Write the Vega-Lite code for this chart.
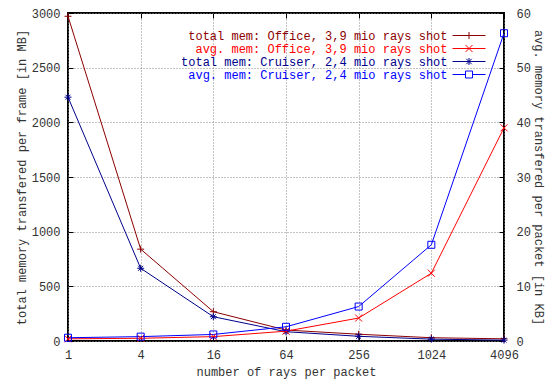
{
  "$schema": "https://vega.github.io/schema/vega-lite/v6.json",
  "width": 436,
  "height": 328,
  "autosize": {"type": "none"},
  "padding": {"left": 68, "top": 13, "right": 41, "bottom": 42},
  "data": {
    "values": [
      {"rays": 1, "series": "total mem: Office, 3,9 mio rays shot", "kind": "total", "value": 2970},
      {"rays": 4, "series": "total mem: Office, 3,9 mio rays shot", "kind": "total", "value": 840},
      {"rays": 16, "series": "total mem: Office, 3,9 mio rays shot", "kind": "total", "value": 268},
      {"rays": 64, "series": "total mem: Office, 3,9 mio rays shot", "kind": "total", "value": 100},
      {"rays": 256, "series": "total mem: Office, 3,9 mio rays shot", "kind": "total", "value": 62},
      {"rays": 1024, "series": "total mem: Office, 3,9 mio rays shot", "kind": "total", "value": 30},
      {"rays": 4096, "series": "total mem: Office, 3,9 mio rays shot", "kind": "total", "value": 20},
      {"rays": 1, "series": "avg. mem: Office, 3,9 mio rays shot", "kind": "avg", "value": 0.4},
      {"rays": 4, "series": "avg. mem: Office, 3,9 mio rays shot", "kind": "avg", "value": 0.5},
      {"rays": 16, "series": "avg. mem: Office, 3,9 mio rays shot", "kind": "avg", "value": 0.8},
      {"rays": 64, "series": "avg. mem: Office, 3,9 mio rays shot", "kind": "avg", "value": 1.8},
      {"rays": 256, "series": "avg. mem: Office, 3,9 mio rays shot", "kind": "avg", "value": 4.2},
      {"rays": 1024, "series": "avg. mem: Office, 3,9 mio rays shot", "kind": "avg", "value": 12.4},
      {"rays": 4096, "series": "avg. mem: Office, 3,9 mio rays shot", "kind": "avg", "value": 39},
      {"rays": 1, "series": "total mem: Cruiser, 2,4 mio rays shot", "kind": "total", "value": 2230},
      {"rays": 4, "series": "total mem: Cruiser, 2,4 mio rays shot", "kind": "total", "value": 665},
      {"rays": 16, "series": "total mem: Cruiser, 2,4 mio rays shot", "kind": "total", "value": 222},
      {"rays": 64, "series": "total mem: Cruiser, 2,4 mio rays shot", "kind": "total", "value": 85},
      {"rays": 256, "series": "total mem: Cruiser, 2,4 mio rays shot", "kind": "total", "value": 43},
      {"rays": 1024, "series": "total mem: Cruiser, 2,4 mio rays shot", "kind": "total", "value": 17},
      {"rays": 4096, "series": "total mem: Cruiser, 2,4 mio rays shot", "kind": "total", "value": 8},
      {"rays": 1, "series": "avg. mem: Cruiser, 2,4 mio rays shot", "kind": "avg", "value": 0.6},
      {"rays": 4, "series": "avg. mem: Cruiser, 2,4 mio rays shot", "kind": "avg", "value": 0.8},
      {"rays": 16, "series": "avg. mem: Cruiser, 2,4 mio rays shot", "kind": "avg", "value": 1.2},
      {"rays": 64, "series": "avg. mem: Cruiser, 2,4 mio rays shot", "kind": "avg", "value": 2.6},
      {"rays": 256, "series": "avg. mem: Cruiser, 2,4 mio rays shot", "kind": "avg", "value": 6.3},
      {"rays": 1024, "series": "avg. mem: Cruiser, 2,4 mio rays shot", "kind": "avg", "value": 17.6},
      {"rays": 4096, "series": "avg. mem: Cruiser, 2,4 mio rays shot", "kind": "avg", "value": 56.3}
    ]
  },
  "encoding": {
    "color": {
      "field": "series",
      "type": "nominal",
      "scale": {
        "domain": ["total mem: Office, 3,9 mio rays shot", "avg. mem: Office, 3,9 mio rays shot", "total mem: Cruiser, 2,4 mio rays shot", "avg. mem: Cruiser, 2,4 mio rays shot"],
        "range": ["#8b0000", "#ff0000", "#00008b", "#0000ff"]
      },
      "legend": {
        "title": null,
        "orient": "top-right",
        "offset": 16,
        "padding": 0,
        "rowPadding": 0,
        "labelAlign": "right",
        "labelOffset": -28,
        "labelLimit": 400,
        "labelFont": "Liberation Mono",
        "labelFontSize": 12,
        "labelColor": {"expr": "scale('color', datum.value)"},
        "symbolSize": 144,
        "symbolOffset": 10.5,
        "symbolStrokeWidth": 1,
        "symbolFillColor": "transparent",
        "symbolType": {"expr": "datum.value === 'total mem: Office, 3,9 mio rays shot' ? 'M-2.75,0H2.75M0,-0.58V0.58' : datum.value === 'avg. mem: Office, 3,9 mio rays shot' ? 'M-2.75,0H2.75M-0.58,-0.58L0.58,0.58M-0.58,0.58L0.58,-0.58' : datum.value === 'total mem: Cruiser, 2,4 mio rays shot' ? 'M-2.75,0H2.75M0,-0.58V0.58M-0.45,-0.45L0.45,0.45M-0.45,0.45L0.45,-0.45' : 'M-2.75,0H-0.58M0.58,0H2.75M-0.58,-0.58H0.58V0.58H-0.58Z'"}
      }
    }
  },
  "layer": [
    {
      "transform": [{"filter": "datum.kind === 'total'"}],
      "encoding": {
        "x": {
          "field": "rays", "type": "quantitative",
          "scale": {"type": "log", "base": 4, "domain": [1, 4096], "nice": false},
          "axis": {"orient": "bottom", "values": [1, 4, 16, 64, 256, 1024, 4096], "format": "d", "title": "number of rays per packet", "labelPadding": 13, "titlePadding": 6, "grid": true, "labelFlush": false}
        },
        "y": {
          "field": "value", "type": "quantitative",
          "scale": {"domain": [0, 3000], "nice": false},
          "axis": {"orient": "left", "values": [0, 500, 1000, 1500, 2000, 2500, 3000], "format": "d", "title": "total memory transfered per frame [in MB]", "labelPadding": 13, "titlePadding": 3, "grid": true}
        }
      },
      "layer": [
        {"mark": {"type": "line", "strokeWidth": 1}},
        {
          "transform": [{"filter": "datum.series === 'total mem: Office, 3,9 mio rays shot'"}],
          "mark": {"type": "point", "filled": false, "strokeWidth": 1, "size": 49, "opacity": 1, "shape": "M-1,0H1M0,-1V1"}
        },
        {
          "transform": [{"filter": "datum.series === 'total mem: Cruiser, 2,4 mio rays shot'"}],
          "mark": {"type": "point", "filled": false, "strokeWidth": 1, "size": 49, "opacity": 1, "shape": "M-1,0H1M0,-1V1M-0.7,-0.7L0.7,0.7M-0.7,0.7L0.7,-0.7"}
        }
      ]
    },
    {
      "transform": [{"filter": "datum.kind === 'avg'"}],
      "encoding": {
        "x": {
          "field": "rays", "type": "quantitative",
          "scale": {"type": "log", "base": 4, "domain": [1, 4096], "nice": false},
          "axis": {"orient": "top", "values": [1, 4, 16, 64, 256, 1024, 4096], "labels": false, "title": null, "grid": false}
        },
        "y": {
          "field": "value", "type": "quantitative",
          "scale": {"domain": [0, 60], "nice": false},
          "axis": {"orient": "right", "values": [0, 10, 20, 30, 40, 50, 60], "title": "avg. memory transfered per packet [in KB]", "labelPadding": 17, "titlePadding": 1, "grid": false}
        }
      },
      "layer": [
        {"mark": {"type": "line", "strokeWidth": 1}},
        {
          "transform": [{"filter": "datum.series === 'avg. mem: Office, 3,9 mio rays shot'"}],
          "mark": {"type": "point", "filled": false, "strokeWidth": 1, "size": 49, "opacity": 1, "shape": "M-1,-1L1,1M-1,1L1,-1"}
        },
        {
          "transform": [{"filter": "datum.series === 'avg. mem: Cruiser, 2,4 mio rays shot'"}],
          "mark": {"type": "point", "filled": false, "strokeWidth": 1, "size": 49, "opacity": 1, "shape": "M-1,-1H1V1H-1Z"}
        }
      ]
    }
  ],
  "resolve": {"scale": {"y": "independent"}, "axis": {"x": "independent"}},
  "config": {
    "font": "Liberation Mono",
    "view": {"stroke": "black", "strokeWidth": 2},
    "axis": {
      "labelFont": "Liberation Mono", "labelFontSize": 12, "labelColor": "#333333",
      "titleFont": "Liberation Mono", "titleFontSize": 12, "titleFontWeight": "normal", "titleColor": "#333333",
      "domain": false, "tickColor": "black", "tickSize": -5, "tickWidth": 1,
      "gridColor": "#888888", "gridDash": [1, 2], "gridOpacity": 1, "gridWidth": 1
    }
  }
}
